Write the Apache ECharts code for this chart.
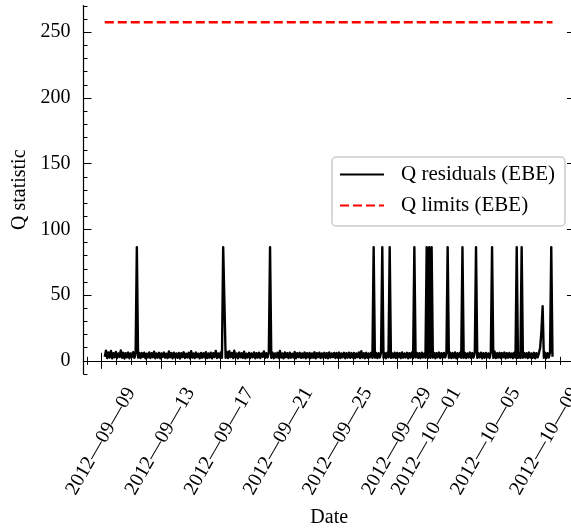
<!DOCTYPE html>
<html><head><meta charset="utf-8">
<script src="https://cdn.jsdelivr.net/npm/echarts@6/dist/echarts.min.js"></script>
<style>html,body{margin:0;padding:0;background:#fff}#c{width:571px;height:529px}</style>
</head><body><div id="c"></div>
<script>
// ---- data ----
const startTime = '2012-09-09 05:00';
const stepHours = 2;
const qResiduals = [
  3.2, 7.8, 2.1, 6.4, 2.6, 7.5, 1.9, 5.9, 2.8, 6.8, 2.2, 5.6, 3.0, 7.9, 2.4, 6.1, 1.8, 5.8, 2.7, 6.3,
  2.0, 5.7, 2.9, 6.6, 2.3, 5.4, 86.5, 2.5, 6.0, 2.1, 5.9, 3.1, 6.2, 1.9, 5.5, 2.6, 6.4, 2.2, 5.8, 2.8,
  6.9, 2.0, 5.6, 2.5, 6.1, 1.9, 5.7, 3.0, 6.3, 2.4, 5.5, 2.1, 7.2, 2.7, 5.9, 2.0, 6.2, 2.6, 5.6, 2.3,
  6.0, 1.8, 5.8, 2.9, 6.5, 2.2, 5.4, 2.6, 6.1, 2.0, 7.4, 2.5, 5.7, 2.1, 6.3, 2.8, 5.5, 1.9, 6.0, 2.4,
  5.8, 2.7, 6.6, 2.1, 5.6, 2.5, 6.2, 1.9, 5.9, 3.0, 7.6, 2.2, 5.7, 2.6, 6.4, 2.3, 86.5, 86.5, 2.4, 6.8,
  2.1, 7.3, 2.9, 6.0, 2.2, 7.7, 2.5, 5.6, 2.0, 6.3, 2.7, 5.8, 2.3, 6.9, 1.9, 5.5, 2.6, 6.1, 2.2, 5.7,
  2.8, 6.4, 2.0, 5.9, 2.5, 6.2, 2.1, 5.6, 3.0, 7.1, 2.3, 5.8, 2.6, 6.0, 86.5, 2.4, 6.3, 2.0, 5.7, 2.7,
  6.1, 2.2, 7.5, 2.5, 5.6, 1.9, 6.4, 2.8, 5.8, 2.1, 6.2, 2.4, 5.5, 2.6, 6.7, 2.0, 5.9, 2.9, 6.1, 2.3,
  5.7, 2.5, 6.3, 2.0, 5.8, 2.7, 6.0, 2.2, 5.6, 2.4, 6.5, 1.9, 5.9, 2.8, 6.2, 2.1, 5.7, 2.6, 6.1, 2.3,
  5.8, 2.0, 6.4, 2.5, 5.6, 2.9, 6.0, 2.2, 5.9, 2.4, 6.3, 2.1, 5.7, 2.7, 6.1, 2.0, 5.8, 2.5, 6.2, 2.3,
  5.9, 2.6, 6.0, 2.1, 5.7, 2.8, 6.4, 2.2, 7.3, 2.5, 5.8, 2.0, 6.1, 2.4, 5.6, 2.7, 6.2, 2.3, 86.5, 2.5,
  6.0, 2.1, 5.8, 2.6, 6.3, 86.5, 2.4, 5.9, 2.0, 6.1, 2.7, 86.5, 2.3, 5.7, 2.5, 6.2, 2.2, 6.0, 2.8, 5.8,
  2.1, 6.4, 2.4, 5.6, 2.6, 6.1, 2.0, 5.9, 2.5, 6.3, 2.2, 86.5, 2.7, 6.0, 2.3, 5.8, 2.1, 6.2, 2.6, 5.7,
  2.4, 86.5, 2.2, 86.5, 2.3, 86.5, 2.5, 6.1, 2.0, 5.9, 2.7, 6.3, 2.2, 5.8, 2.4, 6.0, 2.6, 5.7, 86.5, 2.3,
  6.2, 2.1, 5.9, 2.5, 6.4, 2.0, 5.8, 2.8, 6.1, 2.3, 86.5, 2.4, 6.0, 2.2, 5.7, 2.6, 6.3, 2.1, 5.9, 2.5,
  6.1, 86.5, 2.3, 5.8, 2.7, 6.2, 2.0, 5.9, 2.4, 6.0, 2.6, 5.7, 2.2, 6.5, 86.5, 2.3, 7.2, 2.1, 5.8, 2.5,
  6.1, 2.2, 5.9, 2.7, 6.3, 2.0, 5.8, 2.4, 6.0, 2.6, 5.7, 2.1, 6.2, 2.5, 86.5, 2.3, 5.9, 2.2, 86.5, 2.4,
  6.0, 2.6, 5.8, 2.1, 6.3, 2.5, 5.7, 2.3, 6.1, 2.0, 5.9, 2.7, 5.9, 10.0, 22.0, 41.5, 2.4, 6.2, 2.1, 5.8,
  2.6, 6.4, 86.5, 3.1
];
const qLimitTimes = ['2012-09-09 05:00', '2012-10-09 11:00'];
const qLimitValues = [257.5, 257.5];

const xMajorTicks = ['2012-09-09','2012-09-13','2012-09-17','2012-09-21','2012-09-25','2012-09-29','2012-10-01','2012-10-05','2012-10-09'];
const xTickLabels = ['2012—09—09','2012—09—13','2012—09—17','2012—09—21','2012—09—25','2012—09—29','2012—10—01','2012—10—05','2012—10—09'];
const xMinorTicks = ['2012-09-08','2012-09-09','2012-09-10','2012-09-11','2012-09-12','2012-09-13','2012-09-14','2012-09-15',
  '2012-09-16','2012-09-17','2012-09-18','2012-09-19','2012-09-20','2012-09-21','2012-09-22','2012-09-23','2012-09-24',
  '2012-09-25','2012-09-26','2012-09-27','2012-09-28','2012-09-29','2012-09-30','2012-10-01','2012-10-02','2012-10-03',
  '2012-10-04','2012-10-05','2012-10-06','2012-10-07','2012-10-08','2012-10-09','2012-10-10'];
const yMajorTicks = [0, 50, 100, 150, 200, 250];
const yMinorTicks = [-10, 10, 20, 30, 40, 60, 70, 80, 90, 110, 120, 130, 140, 160, 170, 180, 190, 210, 220, 230, 240, 260, 270];
const xMin = '2012-09-07 18:30', xMax = '2012-10-10 23:30';
const yMin = -10, yMax = 270.3;

// ---- helpers ----
function ts(s) {
  const parts = s.split(' ');
  const [Y, M, D] = parts[0].split('-').map(Number);
  const [h, m] = (parts[1] || '00:00').split(':').map(Number);
  return Date.UTC(Y, M - 1, D, h, m);
}
const t0 = ts(startTime);
const residualData = qResiduals.map((v, i) => [t0 + i * stepHours * 3600e3, v]);
const limitData = qLimitTimes.map((t, i) => [ts(t), qLimitValues[i]]);
const majorTs = xMajorTicks.map(ts);
const minorTs = xMinorTicks.map(ts);

const FONT = 'Liberation Serif';
const gridBox = { left: 83.5, top: 5.5, width: 491.5, height: 368.5, outerBoundsMode: 'none', containLabel: false };
const lineBlack = { show: true, lineStyle: { color: '#000', width: 1.2 } };

function xAx(grid, pos, ticks, len, opts) {
  return Object.assign({
    type: 'value', gridIndex: grid, position: pos, min: ts(xMin), max: ts(xMax),
    axisLine: grid === 0 ? lineBlack : { show: false },
    axisTick: { show: true, inside: true, length: len, customValues: ticks, lineStyle: { color: '#000', width: 1 } },
    axisLabel: { show: false },
    splitLine: { show: false }, minorTick: { show: false }
  }, opts || {});
}
function yAx(grid, pos, ticks, len, opts) {
  return Object.assign({
    type: 'value', gridIndex: grid, position: pos, min: yMin, max: yMax,
    axisLine: grid === 0 ? lineBlack : { show: false },
    axisTick: { show: true, inside: true, length: len, customValues: ticks, lineStyle: { color: '#000', width: 1 } },
    axisLabel: { show: false },
    splitLine: { show: false }, minorTick: { show: false }
  }, opts || {});
}

const option = {
  animation: false,
  backgroundColor: '#fff',
  grid: [Object.assign({}, gridBox), Object.assign({}, gridBox)],
  xAxis: [
    xAx(0, 'bottom', majorTs, 8, {
      name: 'Date', nameLocation: 'middle', nameGap: 134,
      nameTextStyle: { fontFamily: FONT, fontSize: 20, color: '#000' },
      axisLabel: {
        show: true, customValues: majorTs, rotate: 60, align: 'center', verticalAlign: 'middle', margin: 66,
        padding: [0, 3, 5, 0],
        fontFamily: FONT, fontSize: 20, color: '#000',
        formatter: function (v) { const k = majorTs.indexOf(v); return k >= 0 ? xTickLabels[k] : ''; }
      }
    }),
    xAx(0, 'top', majorTs, 8),
    xAx(1, 'bottom', minorTs, 4),
    xAx(1, 'top', minorTs, 4)
  ],
  yAxis: [
    yAx(0, 'left', yMajorTicks, 8, {
      name: 'Q statistic', nameLocation: 'middle', nameGap: 48,
      nameTextStyle: { fontFamily: FONT, fontSize: 20, color: '#000' },
      axisLabel: { show: true, customValues: yMajorTicks, margin: 13, fontFamily: FONT, fontSize: 20, color: '#000' }
    }),
    yAx(0, 'right', yMajorTicks, 8),
    yAx(1, 'left', yMinorTicks, 4),
    yAx(1, 'right', yMinorTicks, 4)
  ],
  legend: {
    orient: 'vertical', left: 332, top: 157,
    padding: [7, 10, 10, 7], itemWidth: 44, itemHeight: 20, itemGap: 10,
    backgroundColor: 'rgba(255,255,255,0.8)', borderColor: '#cccccc', borderWidth: 1.5, borderRadius: 4,
    itemStyle: { color: 'rgba(0,0,0,0)', borderWidth: 0, opacity: 0 },
    textStyle: { fontFamily: FONT, fontSize: 21, color: '#000', padding: [0, 0, 0, 12] },
    data: ['Q residuals (EBE)', 'Q limits (EBE)']
  },
  series: [
    {
      name: 'Q residuals (EBE)', type: 'line', xAxisIndex: 0, yAxisIndex: 0,
      data: residualData, symbol: 'none', showSymbol: false,
      lineStyle: { color: '#000', width: 2.4, join: 'round' }, itemStyle: { color: '#000' }
    },
    {
      name: 'Q limits (EBE)', type: 'line', xAxisIndex: 0, yAxisIndex: 0,
      data: limitData, symbol: 'none', showSymbol: false,
      lineStyle: { color: '#ff0000', width: 2.5, type: [9, 4] }, itemStyle: { color: '#ff0000' }
    }
  ]
};
echarts.init(document.getElementById('c'), null, { renderer: 'canvas' }).setOption(option);
</script>
</body></html>
